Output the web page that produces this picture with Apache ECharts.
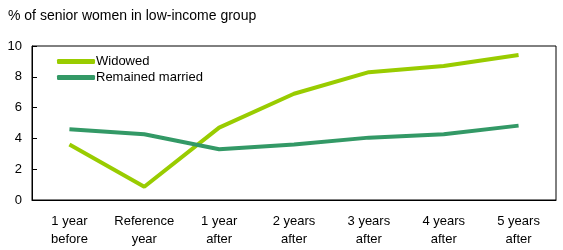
<!DOCTYPE html>
<html>
<head>
<meta charset="utf-8">
<script src="https://cdn.jsdelivr.net/npm/echarts@6/dist/echarts.min.js"></script>
<style>
  html, body { margin: 0; padding: 0; background: #fff; }
  #chart { width: 563px; height: 250px; }
</style>
</head>
<body>
<div id="chart"></div>
<script>
// 分类与数据
const categories = ['1 year\nbefore', 'Reference\nyear', '1 year\nafter', '2 years\nafter', '3 years\nafter', '4 years\nafter', '5 years\nafter'];
const widowed = [3.6, 0.86, 4.7, 6.9, 8.3, 8.7, 9.42];
const remainedMarried = [4.6, 4.27, 3.3, 3.6, 4.05, 4.27, 4.83];
const seriesNames = ['Widowed', 'Remained married'];
const seriesColors = ['#99cc00', '#339966'];

const chart = echarts.init(document.getElementById('chart'));
const font = 'Liberation Sans, Arial, sans-serif';

const option = {
  animation: false,
  textStyle: { fontFamily: font },
  title: {
    text: '% of senior women in low-income group',
    left: 3, top: 4,
    textStyle: { fontSize: 14, fontWeight: 'normal', color: '#000', fontFamily: font }
  },
  legend: {
    orient: 'vertical',
    left: 52, top: 50,
    itemWidth: 38, itemHeight: 5, itemGap: 3,
    icon: 'roundRect',
    data: seriesNames,
    textStyle: { fontSize: 13, color: '#000', padding: [0, 0, 0, -4] }
  },
  grid: {
    left: 32, right: 7, top: 46, bottom: 50,
    show: true, borderColor: '#000', borderWidth: 1
  },
  xAxis: {
    type: 'category',
    data: categories,
    boundaryGap: true,
    axisLine: { lineStyle: { color: '#000', width: 1 } },
    axisTick: { inside: true, length: 5, lineStyle: { color: '#000' } },
    axisLabel: { color: '#000', fontSize: 13, lineHeight: 18, margin: 12, interval: 0 }
  },
  yAxis: {
    type: 'value',
    min: 0, max: 10, interval: 2,
    splitLine: { show: false },
    axisLine: { show: true, lineStyle: { color: '#000', width: 1 } },
    axisTick: { show: true, inside: true, length: 5, lineStyle: { color: '#000' } },
    axisLabel: { color: '#000', fontSize: 13, margin: 10 }
  },
  series: [
    {
      name: seriesNames[0], type: 'line', data: widowed,
      symbol: 'none', color: seriesColors[0],
      lineStyle: { width: 4, color: seriesColors[0] }
    },
    {
      name: seriesNames[1], type: 'line', data: remainedMarried,
      symbol: 'none', color: seriesColors[1],
      lineStyle: { width: 4, color: seriesColors[1] }
    }
  ]
};
chart.setOption(option);
</script>
</body>
</html>
